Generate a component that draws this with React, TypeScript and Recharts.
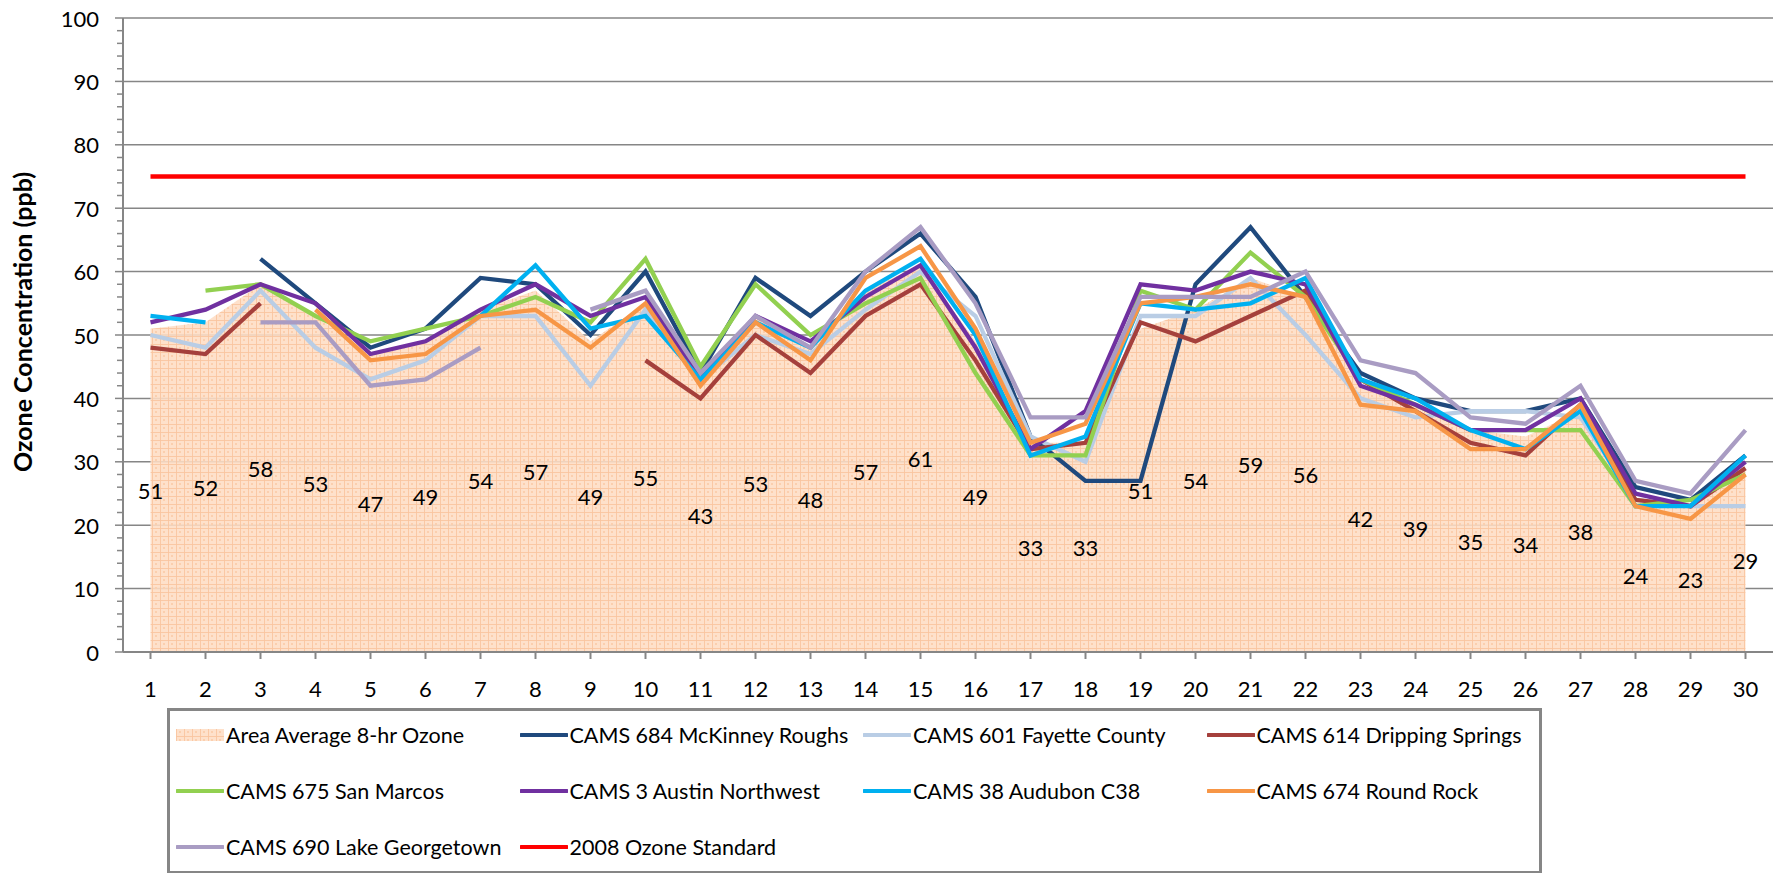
import React from 'react';
import {
  ComposedChart,
  Area,
  Line,
  XAxis,
  YAxis,
  CartesianGrid,
  LabelList,
} from 'recharts';

const days = ['1', '2', '3', '4', '5', '6', '7', '8', '9', '10', '11', '12', '13', '14', '15',
  '16', '17', '18', '19', '20', '21', '22', '23', '24', '25', '26', '27', '28', '29', '30'];

const areaAverage = [51, 52, 58, 53, 47, 49, 54, 57, 49, 55, 43, 53, 48, 57, 61,
  49, 33, 33, 51, 54, 59, 56, 42, 39, 35, 34, 38, 24, 23, 29];
const mckinneyRoughs = [null, null, 62, 55, 48, 51, 59, 58, 50, 60, 44, 59, 53, 60, 66,
  56, 34, 27, 27, 58, 67, 56, 44, 40, 38, 38, 40, 26, 24, 31];
const fayetteCounty = [50, 48, 57, 48, 43, 46, 53, 53, 42, 54, 43, 50, 47, 54, 60,
  53, 34, 30, 53, 53, 59, 50, 40, 37, 38, 38, 37, 24, 23, 23];
const drippingSprings = [48, 47, 55, null, null, null, null, null, null, 46, 40, 50, 44, 53, 58,
  46, 32, 33, 52, 49, 53, 57, 43, 38, 33, 31, 39, 24, 23, 29];
const sanMarcos = [null, 57, 58, 53, 49, 51, 53, 56, 52, 62, 45, 58, 50, 55, 59,
  44, 31, 31, 57, 54, 63, 56, 43, 39, 35, 35, 35, 23, 24, 28];
const austinNorthwest = [52, 54, 58, 55, 47, 49, 54, 58, 53, 56, 43, 53, 49, 56, 61,
  48, 32, 38, 58, 57, 60, 58, 42, 39, 35, 35, 40, 25, 23, 30];
const audubon = [53, 52, null, null, null, null, 53, 61, 51, 53, 43, 52, 48, 57, 62,
  50, 31, 34, 55, 54, 55, 59, 43, 40, 35, 32, 38, 23, 23, 31];
const roundRock = [null, null, null, 54, 46, 47, 53, 54, 48, 55, 42, 52, 46, 59, 64,
  51, 33, 36, 55, 56, 58, 56, 39, 38, 32, 32, 39, 23, 21, 28];
const lakeGeorgetown = [null, null, 52, 52, 42, 43, 48, null, 54, 57, 44, 53, 48, 60, 67,
  55, 37, 37, 56, 56, 56, 60, 46, 44, 37, 36, 42, 27, 25, 35];
const ozoneStandard = [75, 75, 75, 75, 75, 75, 75, 75, 75, 75, 75, 75, 75, 75, 75,
  75, 75, 75, 75, 75, 75, 75, 75, 75, 75, 75, 75, 75, 75, 75];

const majorTicks = [0, 10, 20, 30, 40, 50, 60, 70, 80, 90, 100];
const allTicks = majorTicks.flatMap((t) => (t < 100 ? [t, t + 2, t + 4, t + 6, t + 8] : [t]));

const series = [
  { key: 's684', name: 'CAMS 684 McKinney Roughs', color: '#1f497d', values: mckinneyRoughs },
  { key: 's601', name: 'CAMS 601 Fayette County', color: '#b9cde5', values: fayetteCounty },
  { key: 's614', name: 'CAMS 614 Dripping Springs', color: '#a5403c', values: drippingSprings },
  { key: 's675', name: 'CAMS 675 San Marcos', color: '#92d050', values: sanMarcos },
  { key: 's3', name: 'CAMS 3 Austin Northwest', color: '#7030a0', values: austinNorthwest },
  { key: 's38', name: 'CAMS 38 Audubon C38', color: '#00b0f0', values: audubon },
  { key: 's674', name: 'CAMS 674 Round Rock', color: '#f79646', values: roundRock },
  { key: 's690', name: 'CAMS 690 Lake Georgetown', color: '#a99cc3', values: lakeGeorgetown },
  { key: 'std', name: '2008 Ozone Standard', color: '#ff0000', values: ozoneStandard },
];

const data = days.map((day, i) => {
  const row: Record<string, any> = { day, avg: areaAverage[i] };
  series.forEach((s) => {
    row[s.key] = s.values[i];
  });
  return row;
});

const W = 1778;
const H = 873;
const margin = { top: 18, right: 5, bottom: 181, left: 0 };
const xAxisHeight = 40;
const plotBottom = H - margin.bottom - xAxisHeight;
const font = 'Lato, "Open Sans", sans-serif';
const gray = '#868686';

function YTick(props: any) {
  const { x, y, payload } = props;
  const major = payload.value % 10 === 0;
  return (
    <g>
      <line x1={x - (major ? 8 : 6)} x2={x} y1={y} y2={y} stroke={gray} strokeWidth={1.5} />
      {major && (
        <text x={x - 24} y={y} textAnchor="end" dominantBaseline="central"
          fontFamily={font} fontSize={22} fill="#000">
          {payload.value}
        </text>
      )}
    </g>
  );
}

function YTitle(props: any) {
  const vb = props.viewBox || { x: 0, y: 0, height: 0 };
  const cx = vb.x + 22;
  const cy = vb.y + vb.height / 2 - 13;
  return (
    <text x={cx} y={cy} transform={`rotate(-90, ${cx}, ${cy})`} textAnchor="middle"
      dominantBaseline="central" fontFamily={font} fontWeight="bold" fontSize={25} fill="#000">
      Ozone Concentration (ppb)
    </text>
  );
}

function AvgLabel(props: any) {
  const { x, y, value } = props;
  if (value == null) return null;
  return (
    <text x={x} y={(y + plotBottom) / 2} textAnchor="middle" dominantBaseline="central"
      fontFamily={font} fontSize={22} fill="#000">
      {value}
    </text>
  );
}

function PatternDef({ id }: { id: string }) {
  return (
    <pattern id={id} width={8} height={8} patternUnits="userSpaceOnUse">
      <rect width={8} height={8} fill="#fddcc3" fillOpacity={0.88} />
      <rect width={8} height={1} fill="#fac6a0" fillOpacity={0.9} />
      <rect width={1} height={8} fill="#fac6a0" fillOpacity={0.9} />
      <rect x={3} y={3} width={2} height={2} fill="#fbcfae" />
    </pattern>
  );
}

const legendItems = [
  { name: 'Area Average 8-hr Ozone', color: 'area' },
  ...series.map((s) => ({ name: s.name, color: s.color })),
];

function LegendBox() {
  return (
    <div
      style={{
        position: 'absolute',
        left: 167,
        top: 708,
        width: 1375,
        height: 166,
        border: `3px solid ${gray}`,
        boxSizing: 'border-box',
        background: '#fff',
      }}
    >
      {legendItems.map((item, i) => {
        const col = i % 4;
        const row = Math.floor(i / 4);
        return (
          <div
            key={item.name}
            style={{
              position: 'absolute',
              left: 6 + col * 343.5,
              top: 24 + row * 56 - 15,
              height: 30,
              display: 'flex',
              alignItems: 'center',
              whiteSpace: 'nowrap',
              fontFamily: font,
              fontSize: 21.5,
              color: '#000',
            }}
          >
            <svg width={48} height={14} style={{ marginRight: 2 }}>
              {item.color === 'area' ? (
                <>
                  <defs>
                    <PatternDef id="legendPattern" />
                  </defs>
                  <rect x={0} y={1} width={48} height={12} fill="url(#legendPattern)" />
                </>
              ) : (
                <line x1={1} x2={47} y1={7} y2={7} stroke={item.color} strokeWidth={4}
                  strokeLinecap="round" />
              )}
            </svg>
            <span>{item.name}</span>
          </div>
        );
      })}
    </div>
  );
}

export default function App() {
  return (
    <div style={{ position: 'relative', width: W, height: H, background: '#fff' }}>
      <style>{'body{margin:0;}'}</style>
      <ComposedChart width={W} height={H} data={data} margin={margin}>
        <defs>
          <PatternDef id="areaPattern" />
        </defs>
        <CartesianGrid vertical={false} horizontalValues={majorTicks} stroke={gray}
          strokeWidth={1.5} />
        <XAxis
          dataKey="day"
          height={xAxisHeight}
          interval={0}
          padding={{ left: 27.5, right: 27.5 }}
          axisLine={{ stroke: gray, strokeWidth: 2 }}
          tickLine={{ stroke: gray, strokeWidth: 2 }}
          tickSize={7}
          tickMargin={22}
          tick={{ fontFamily: font, fontSize: 22, fill: '#000' }}
        />
        <YAxis
          width={123}
          domain={[0, 100]}
          ticks={allTicks}
          interval={0}
          tickLine={false}
          tickSize={0}
          tickMargin={0}
          axisLine={{ stroke: gray, strokeWidth: 2 }}
          tick={<YTick />}
          label={<YTitle />}
        />
        <Area
          type="linear"
          dataKey="avg"
          fill="url(#areaPattern)"
          fillOpacity={1}
          stroke="none"
          isAnimationActive={false}
          activeDot={false}
        >
          <LabelList dataKey="avg" content={<AvgLabel />} />
        </Area>
        {series.map((s) => (
          <Line
            key={s.key}
            type="linear"
            dataKey={s.key}
            stroke={s.color}
            strokeWidth={s.key === 'std' ? 4.5 : 4.3}
            dot={false}
            activeDot={false}
            isAnimationActive={false}
          />
        ))}
      </ComposedChart>
      <LegendBox />
    </div>
  );
}
